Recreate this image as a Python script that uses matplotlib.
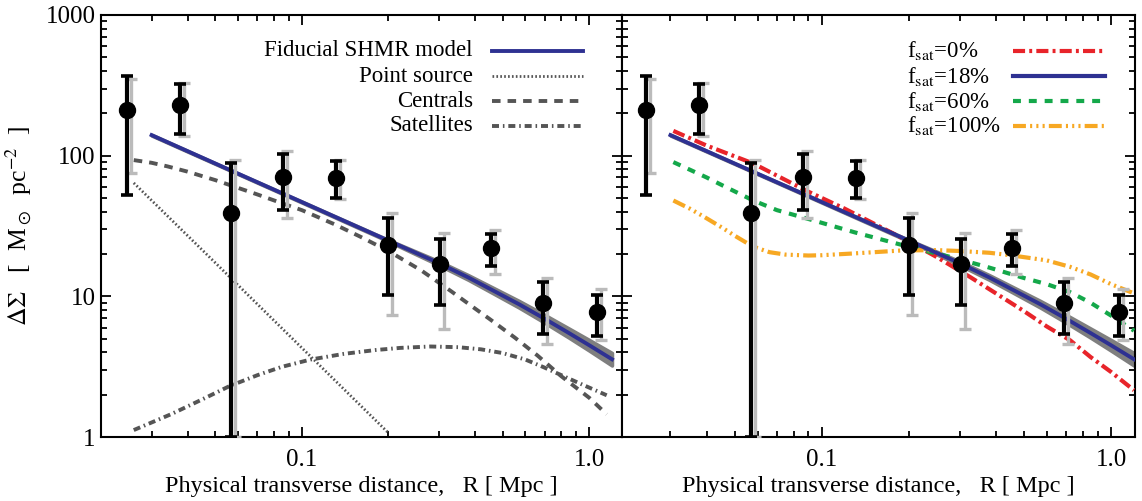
import numpy as np
import matplotlib
matplotlib.use('Agg')
import matplotlib.pyplot as plt
from matplotlib.ticker import FixedLocator, FixedFormatter, LogLocator, NullFormatter

plt.rcParams['font.family'] = ['Liberation Serif', 'DejaVu Serif']
plt.rcParams['mathtext.fontset'] = 'stix'

# measured points (R in Mpc, Delta Sigma in Msun/pc^2)
r_pts = [0.0247, 0.0377, 0.0568, 0.0861, 0.1316, 0.1995, 0.303, 0.455, 0.690, 1.064]
ds_pts = [211, 229, 39.2, 70.7, 69.7, 23.1, 17.1, 21.9, 8.98, 7.74]
err_hi = [370, 321, 88.9, 102, 91.8, 36.1, 25.5, 27.7, 12.7, 10.2]
err_lo = [52.4, 142, 1.0, 41, 49.9, 10.2, 8.64, 16.4, 5.44, 5.2]
alt_hi = [350, 326, 93, 108, 93, 39.2, 28, 29.5, 13.6, 11.2]
alt_lo = [75, 138, 1.0, 36, 49, 7.35, 5.9, 14.4, 4.62, 4.87]

# fiducial model with its band
fid_r = [0.030, 0.057, 0.1, 0.2, 0.3, 0.38, 0.455, 0.57, 0.69, 0.85, 1.0, 1.2]
fid = [140, 78, 46.8, 24.9, 17.2, 13.6, 11.2, 8.78, 7.04, 5.48, 4.49, 3.57]
fid_lo = [139, 77.5, 46.4, 24.6, 16.65, 13.08, 10.70, 8.31, 6.60, 5.08, 4.11, 3.22]
fid_hi = [141, 78.5, 47.2, 25.2, 17.76, 14.14, 11.73, 9.28, 7.51, 5.91, 4.90, 3.96]

# left panel components
ps_r = [0.026, 0.05, 0.1, 0.2]
ps = [64, 17.3, 4.3, 1.07]
cen_r = [0.026, 0.03, 0.034, 0.04, 0.05, 0.06, 0.07, 0.085, 0.1, 0.13, 0.16, 0.2,
         0.26, 0.33, 0.4, 0.45, 0.55, 0.66, 0.8, 1.0, 1.15]
cen = [93, 89, 84, 77, 67, 59, 53, 46, 41, 32.5, 26.5, 21,
       15.3, 10.9, 8.2, 6.9, 5.1, 3.8, 2.7, 1.9, 1.45]
sat_r = [0.026, 0.035, 0.045, 0.056, 0.07, 0.085, 0.107, 0.14, 0.18, 0.22, 0.28,
         0.35, 0.42, 0.5, 0.6, 0.69, 0.8, 0.95, 1.15]
sat = [1.12, 1.45, 1.85, 2.3, 2.75, 3.15, 3.55, 3.9, 4.15, 4.3, 4.4,
       4.35, 4.2, 3.95, 3.55, 3.15, 2.75, 2.35, 1.98]

# right panel: varying satellite fraction
f0_r = [0.0307, 0.04, 0.058, 0.089, 0.12, 0.168, 0.2, 0.25, 0.326, 0.4, 0.5, 0.6,
        0.722, 0.85, 1.0, 1.2]
f0 = [150, 118, 88, 56, 42, 29.5, 24.5, 19, 13.7, 10.5, 7.85, 6.1,
      4.87, 3.7, 2.9, 2.15]
f60_r = [0.0307, 0.04, 0.045, 0.058, 0.07, 0.089, 0.13, 0.2, 0.28, 0.372, 0.5,
         0.6, 0.722, 0.85, 1.0, 1.2]
f60 = [90, 70, 62, 48, 41, 35.7, 28.5, 22.5, 19, 16.2, 13.5,
       12.2, 10.7, 9.0, 7.3, 5.7]
f100_r = [0.0307, 0.035, 0.039, 0.045, 0.05, 0.055, 0.06, 0.066, 0.075, 0.09, 0.1,
          0.13, 0.19, 0.25, 0.3, 0.38, 0.45, 0.6, 0.722, 0.85, 1.0, 1.2]
f100 = [48, 42, 37, 31, 27, 24, 22, 20.6, 19.8, 19.5, 19.6,
        20.2, 21.2, 21.3, 21, 20.4, 19.6, 18, 16.2, 14.3, 12.2, 10.5]

blue = '#2e3192'
dgrey = '#555555'


def draw_data(ax):
    r = np.array(r_pts)
    y = np.array(ds_pts)
    ra = r * 1.032
    ax.errorbar(ra, y, yerr=[y - np.array(alt_lo), np.array(alt_hi) - y], fmt='none',
                ecolor='#bbbbbb', elinewidth=2.4, capsize=4, capthick=2.4, zorder=5)
    ax.errorbar(r, y, yerr=[y - np.array(err_lo), np.array(err_hi) - y], fmt='o',
                color='black', ms=11.5, elinewidth=3, capsize=4.5, capthick=2.6, zorder=6)


def fiducial(ax):
    ax.fill_between(fid_r, fid_lo, fid_hi, color='#7f7f7f', lw=2.5, edgecolor='#7f7f7f', zorder=2)
    ax.plot(fid_r, fid, color=blue, lw=2.8, zorder=3)


def style(ax, xlim, ylabels):
    ax.set_xscale('log')
    ax.set_yscale('log')
    ax.set_xlim(*xlim)
    ax.set_ylim(1, 1000)
    ax.xaxis.set_major_locator(FixedLocator([0.1, 1.0]))
    ax.xaxis.set_major_formatter(FixedFormatter(['0.1', '1.0']))
    ax.xaxis.set_minor_locator(LogLocator(base=10, subs=np.arange(2, 10)))
    ax.xaxis.set_minor_formatter(NullFormatter())
    ax.yaxis.set_major_locator(FixedLocator([1, 10, 100, 1000]))
    if ylabels:
        ax.yaxis.set_major_formatter(FixedFormatter(['1', '10', '100', '1000']))
    else:
        ax.yaxis.set_major_formatter(NullFormatter())
    ax.yaxis.set_minor_locator(LogLocator(base=10, subs=np.arange(2, 10)))
    ax.yaxis.set_minor_formatter(NullFormatter())
    ax.tick_params(which='both', direction='in', top=True, right=True, width=1.3, labelsize=18)
    ax.tick_params(axis='x', pad=9)
    ax.tick_params(axis='y', pad=4)
    ax.tick_params(which='major', length=7.5)
    ax.tick_params(which='minor', length=4)
    for s in ax.spines.values():
        s.set_linewidth(1.5)
    ax.set_xlabel('Physical transverse distance,   R [ Mpc ]', fontsize=17.5, labelpad=3)


def key(ax, x0, x1, xt, y, label, ha, **kw):
    ax.plot([x0, x1], [y, y], transform=ax.transAxes, **kw)
    ax.text(xt, y, label, transform=ax.transAxes, ha=ha, va='center', fontsize=16.5)


fig = plt.figure(figsize=(11.42, 5.01), dpi=100)
ax1 = fig.add_axes([101 / 1142, 64 / 501, 521 / 1142, 422 / 501])
ax2 = fig.add_axes([622 / 1142, 64 / 501, 513 / 1142, 422 / 501])

# left panel
ax1.plot(ps_r, ps, color=dgrey, lw=2.0, ls=(0, (0.6, 0.8)), zorder=2)
ax1.plot(cen_r, cen, color=dgrey, lw=2.8, ls=(0, (2.2, 1.8)), zorder=2)
ax1.plot(sat_r, sat, color=dgrey, lw=2.8, ls=(0, (1.8, 1.0, 0.4, 1.0)), zorder=2)
fiducial(ax1)
draw_data(ax1)
style(ax1, (0.0200, 1.30), True)
ax1.set_ylabel(r'$\Delta\Sigma$   [  M$_\odot$  pc$^{-2}$  ]', fontsize=18.5, labelpad=8)

rows = [0.915, 0.855, 0.796, 0.737]
key(ax1, 0.750, 0.925, 0.714, rows[0], 'Fiducial SHMR model', 'right', color=blue, lw=2.8)
key(ax1, 0.750, 0.925, 0.714, rows[1], 'Point source', 'right', color=dgrey, lw=2.0, ls=(0, (0.6, 0.8)))
key(ax1, 0.750, 0.925, 0.714, rows[2], 'Centrals', 'right', color=dgrey, lw=2.8, ls=(0, (2.2, 1.8)))
key(ax1, 0.750, 0.925, 0.714, rows[3], 'Satellites', 'right', color=dgrey, lw=2.8,
    ls=(0, (1.8, 1.0, 0.4, 1.0)))

# right panel
ax2.plot(f0_r, f0, color='#e8242a', lw=3, ls=(0, (2.9, 1.0, 0.7, 1.0)), zorder=3)
ax2.plot(f60_r, f60, color='#14a84a', lw=3, ls=(0, (1.9, 1.9)), zorder=3)
ax2.plot(f100_r, f100, color='#f7a823', lw=3, ls=(0, (3.1, 1.0, 0.5, 1.0, 0.5, 1.0, 0.5, 1.0)), zorder=3)
fiducial(ax2)
draw_data(ax2)
style(ax2, (0.0204, 1.21), False)

key(ax2, 0.762, 0.942, 0.556, rows[0], r'f$_{\rm sat}$=0%', 'left', color='#e8242a', lw=3,
    ls=(0, (2.9, 1.0, 0.7, 1.0)))
key(ax2, 0.762, 0.942, 0.556, rows[1], r'f$_{\rm sat}$=18%', 'left', color=blue, lw=3)
key(ax2, 0.762, 0.942, 0.556, rows[2], r'f$_{\rm sat}$=60%', 'left', color='#14a84a', lw=3, ls=(0, (1.9, 1.9)))
key(ax2, 0.762, 0.942, 0.556, rows[3], r'f$_{\rm sat}$=100%', 'left', color='#f7a823', lw=3,
    ls=(0, (3.1, 1.0, 0.5, 1.0, 0.5, 1.0, 0.5, 1.0)))

fig.savefig('out.png', dpi=100)
